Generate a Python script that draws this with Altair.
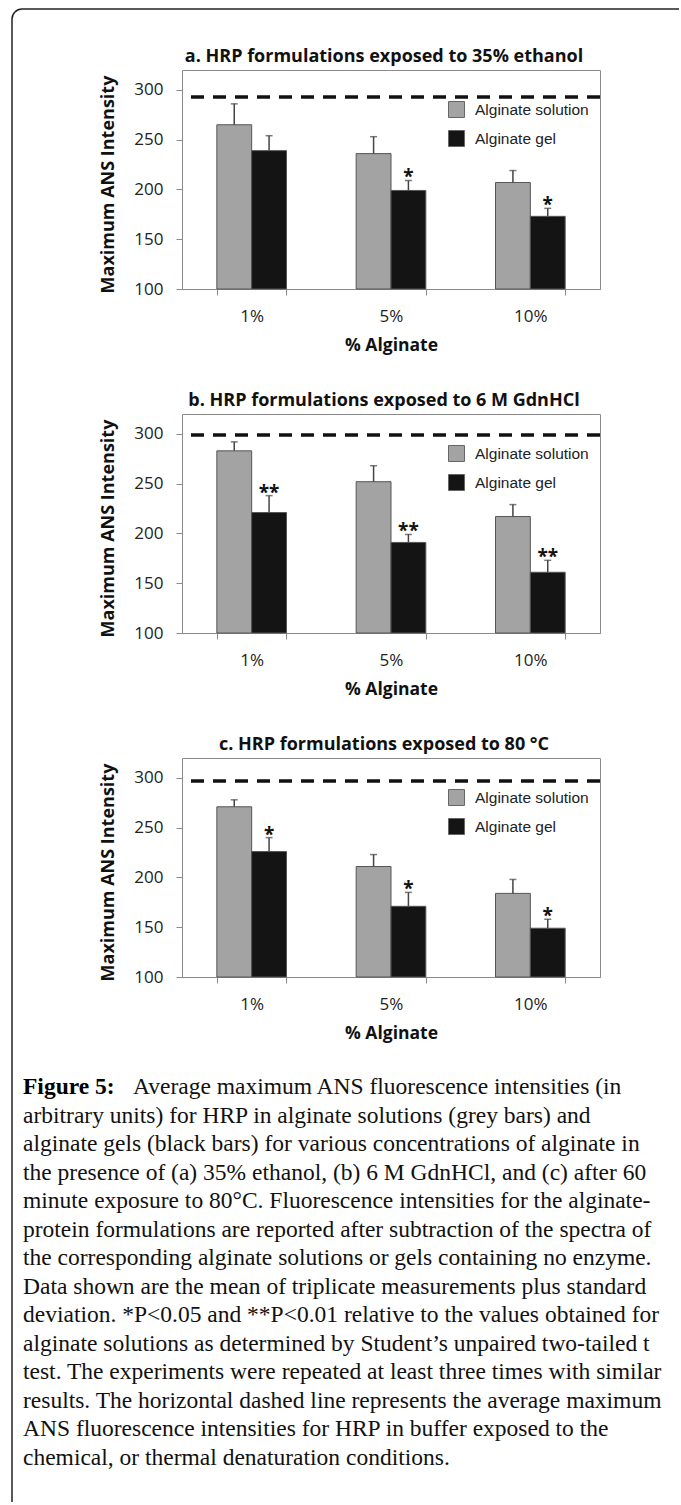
import altair as alt
import pandas as pd

# ---------------- data ----------------
concs = ["1%", "5%", "10%"]
series = ["Alginate solution", "Alginate gel"]

titles = [
    "a. HRP formulations exposed to 35% ethanol",
    "b. HRP formulations exposed to 6 M GdnHCl",
    "c. HRP formulations exposed to 80 °C",
]
buffer_levels = [293, 299, 297]

solution_means = [[265, 236, 207], [283, 252, 217], [271, 211, 184]]
solution_sd = [[21, 17, 12], [9, 16, 12], [7, 12, 14]]
gel_means = [[239, 199, 173], [221, 191, 161], [226, 171, 149]]
gel_sd = [[15, 10, 8], [17, 8, 12], [14, 14, 9]]
gel_marks = [["", "*", "*"], ["**", "**", "**"], ["*", "*", "*"]]

y_ticks = [100, 150, 200, 250, 300]

caption_bold = "Figure 5:"
caption_lines = [
    "Average maximum ANS fluorescence intensities (in",
    "arbitrary units) for HRP in alginate solutions (grey bars) and",
    "alginate gels (black bars) for various concentrations of alginate in",
    "the presence of (a) 35% ethanol, (b) 6 M GdnHCl, and (c) after 60",
    "minute exposure to 80°C. Fluorescence intensities for the alginate-",
    "protein formulations are reported after subtraction of the spectra of",
    "the corresponding alginate solutions or gels containing no enzyme.",
    "Data shown are the mean of triplicate measurements plus standard",
    "deviation. *P<0.05 and **P<0.01 relative to the values obtained for",
    "alginate solutions as determined by Student’s unpaired two-tailed t",
    "test. The experiments were repeated at least three times with similar",
    "results. The horizontal dashed line represents the average maximum",
    "ANS fluorescence intensities for HRP in buffer exposed to the",
    "chemical, or thermal denaturation conditions.",
]

# ---------------- style ----------------
W, H = 418, 219
AX_FONT = "Open Sans"
GREY_LINE = "#8a8a8a"
BAR_COLORS = ["#a3a3a3", "#141414"]


def panel(k):
    rows = []
    for j, c in enumerate(concs):
        rows.append(dict(conc=c, series=series[0], mean=solution_means[k][j],
                         upper=solution_means[k][j] + solution_sd[k][j], mark=""))
        rows.append(dict(conc=c, series=series[1], mean=gel_means[k][j],
                         upper=gel_means[k][j] + gel_sd[k][j], mark=gel_marks[k][j]))
    df = pd.DataFrame(rows)

    yscale = alt.Scale(domain=[100, 320], nice=False, zero=False)
    xenc = alt.X(
        "conc:N", sort=concs,
        scale=alt.Scale(paddingInner=0.5, paddingOuter=0.25),
        axis=alt.Axis(
            title="% Alginate", labelAngle=0, tickBand="extent", tickSize=6,
            tickColor=GREY_LINE, domainColor=GREY_LINE, labelFont=AX_FONT,
            labelFontSize=17, labelColor="#222", labelPadding=13,
            titleFont=AX_FONT, titleFontSize=17.5, titleFontWeight="bold",
            titleColor="#111", titleY=56, titleBaseline="middle",
        ),
    )
    xoff = alt.XOffset("series:N", sort=series,
                       scale=alt.Scale(paddingInner=0, paddingOuter=0))
    yaxis = alt.Axis(
        values=y_ticks, tickSize=6, tickColor=GREY_LINE, domain=False,
        grid=False, labelFont=AX_FONT, labelFontSize=17, labelColor="#222",
        labelPadding=13, title="Maximum ANS Intensity", titleFont=AX_FONT,
        titleFontSize=18, titleFontWeight="bold", titleColor="#111",
        titleX=-74, titleY=114, titleAngle=270, titleAlign="center",
        titleBaseline="middle",
    )

    base = alt.Chart(df)
    bars = base.mark_bar(stroke="#555", strokeWidth=1).encode(
        x=xenc, xOffset=xoff,
        y=alt.Y("mean:Q", scale=yscale, axis=yaxis),
        y2=alt.datum(100),
        color=alt.Color(
            "series:N", sort=series,
            scale=alt.Scale(domain=series, range=BAR_COLORS),
            legend=alt.Legend(
                title=None, orient="none", legendX=266, legendY=31,
                symbolType="square", symbolSize=256, symbolStrokeColor="#666",
                symbolStrokeWidth=1, symbolOpacity=1, labelFont="Liberation Sans",
                labelFontSize=15.5, labelColor="#222", labelOffset=10,
                rowPadding=8, padding=0,
            ),
        ),
    )
    err = base.mark_rule(color="#444", strokeWidth=1.5).encode(
        x=xenc, xOffset=xoff, y=alt.Y("mean:Q", scale=yscale), y2="upper:Q")
    caps = base.mark_tick(orient="horizontal", size=7, thickness=1.5,
                          color="#444").encode(
        x=xenc, xOffset=xoff, y=alt.Y("upper:Q", scale=yscale))
    stars = base.mark_text(font=AX_FONT, fontSize=19, fontWeight="bold",
                           baseline="alphabetic", dy=3, color="#111").encode(
        x=xenc, xOffset=xoff, y=alt.Y("upper:Q", scale=yscale), text="mark:N")
    dash = alt.Chart(pd.DataFrame({"level": [buffer_levels[k]]})).mark_rule(
        strokeDash=[13, 9], strokeWidth=3.5, color="#111").encode(
        y=alt.Y("level:Q", scale=yscale))

    return alt.layer(bars, err, caps, stars, dash).properties(
        width=W, height=H,
        title=alt.TitleParams(
            titles[k], anchor="middle", frame="group", offset=-10,
            baseline="alphabetic", font=AX_FONT, fontSize=18,
            fontWeight="bold", color="#111", dx=-7,
        ),
        view=alt.ViewBackground(stroke=GREY_LINE, strokeWidth=1),
    )


# ---------------- caption + frame ----------------
cap_df = pd.DataFrame({"i": list(range(len(caption_lines))), "t": caption_lines})
cap_y = alt.Y("i:Q", scale=alt.Scale(domain=[0, 13], range=[-15, 356]), axis=None)
SERIF = "Liberation Serif"
CAP_SIZE = 23.5

cap_rest = alt.Chart(cap_df).transform_filter("datum.i > 0").mark_text(
    align="left", baseline="middle", font=SERIF, fontSize=CAP_SIZE, color="#111",
    limit=652).encode(x=alt.value(-159), y=cap_y, text="t:N")
cap_first = alt.Chart(cap_df).transform_filter("datum.i == 0").mark_text(
    align="left", baseline="middle", font=SERIF, fontSize=CAP_SIZE, color="#111",
    dx=110).encode(x=alt.value(-159), y=cap_y, text="t:N")
cap_bold = alt.Chart(pd.DataFrame({"i": [0], "t": [caption_bold]})).mark_text(
    align="left", baseline="middle", font=SERIF, fontSize=CAP_SIZE, color="#000",
    fontWeight="bold").encode(x=alt.value(-159), y=cap_y, text="t:N")

frame_left = alt.Chart(pd.DataFrame({"i": [0]})).mark_rule(
    color="#222", strokeWidth=1.5).encode(
    x=alt.value(-170), y=alt.value(-1083), y2=alt.value(400))
frame_top = alt.Chart(pd.DataFrame({"i": [0]})).mark_rule(
    color="#222", strokeWidth=1.5).encode(
    x=alt.value(-160), x2=alt.value(497), y=alt.value(-1093))
frame_corner = alt.Chart(pd.DataFrame({"i": [0]})).mark_arc(
    theta=4.712389, theta2=6.283185, radius=10.75, radius2=9.25,
    color="#222").encode(x=alt.value(-160), y=alt.value(-1083))

caption = alt.layer(cap_rest, cap_first, cap_bold, frame_left, frame_top,
                    frame_corner).properties(width=W, height=360)

chart = alt.vconcat(panel(0), panel(1), panel(2), caption,
                    spacing=125, bounds="flush").resolve_scale(
    color="independent").properties(
    padding={"left": 11, "top": 8, "right": 0, "bottom": 0},
    background="white",
).configure_view(strokeWidth=0)

chart.save("out.html", embed_options={"renderer": "svg", "actions": False})
